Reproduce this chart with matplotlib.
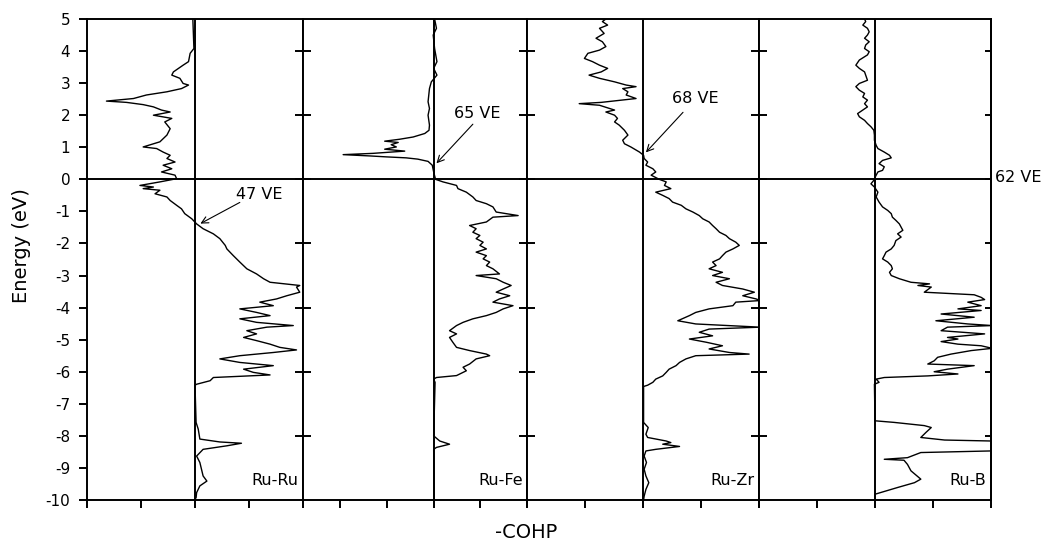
import matplotlib.pyplot as plt

plt.rcParams['font.family'] = ['DejaVu Sans']
plt.rcParams['axes.unicode_minus'] = False

# -COHP curves (arbitrary units) against energy in eV, Fermi level at 0
ru_ru_energy = [5.00, 4.08, 3.93, 3.67, 3.56, 3.35, 3.25, 3.15, 2.99, 2.94, 2.83, 2.73, 2.63, 2.52,
                2.44, 2.40, 2.33, 2.26, 2.16, 2.10, 2.00, 1.90, 1.79, 1.58, 1.38, 1.17, 1.01, 0.96,
                0.85, 0.75, 0.65, 0.54, 0.44, 0.33, 0.23, 0.13, 0.02, -0.08, -0.19, -0.24, -0.29,
                -0.34, -0.45, -0.55, -0.66, -0.81, -0.92, -1.07, -1.23, -1.39, -1.54, -1.70, -1.85,
                -2.06, -2.17, -2.38, -2.58, -2.79, -2.95, -3.10, -3.21, -3.31, -3.36, -3.52, -3.63,
                -3.73, -3.83, -3.94, -4.04, -4.15, -4.25, -4.35, -4.46, -4.56, -4.61, -4.72, -4.82,
                -4.93, -5.03, -5.14, -5.24, -5.32, -5.40, -5.50, -5.60, -5.71, -5.81, -5.92, -6.02,
                -6.10, -6.18, -6.28, -6.39, -6.42, -7.58, -7.79, -8.10, -8.19, -8.23, -8.31, -8.42,
                -8.63, -8.83, -9.04, -9.25, -9.41, -9.56, -9.77, -9.93]
ru_ru_cohp = [-0.04, -0.02, -0.09, -0.12, -0.22, -0.40, -0.43, -0.28, -0.22, -0.12, -0.25, -0.52,
              -0.90, -1.14, -1.64, -1.27, -0.96, -0.77, -0.62, -0.46, -0.77, -0.43, -0.56, -0.46,
              -0.52, -0.65, -0.96, -0.71, -0.59, -0.46, -0.52, -0.37, -0.59, -0.43, -0.62, -0.37,
              -0.34, -0.65, -1.02, -0.77, -0.96, -0.65, -0.74, -0.52, -0.46, -0.34, -0.25, -0.19,
              -0.06, 0.03, 0.15, 0.34, 0.46, 0.56, 0.59, 0.71, 0.83, 0.96, 1.14, 1.27, 1.39, 1.94,
              1.88, 1.94, 1.70, 1.51, 1.20, 1.45, 0.83, 1.14, 1.39, 0.83, 1.14, 1.82, 1.33, 0.96,
              1.14, 0.90, 1.14, 1.39, 1.57, 1.88, 1.45, 0.83, 0.46, 0.83, 1.45, 0.90, 1.08, 1.39,
              0.34, 0.28, 0.03, 0.00, 0.02, 0.06, 0.09, 0.46, 0.86, 0.59, 0.15, 0.03, 0.09, 0.12,
              0.15, 0.22, 0.09, 0.03, 0.02]

ru_fe_energy = [5.00, 4.71, 4.50, 4.08, 3.67, 3.46, 3.25, 3.04, 2.83, 2.42, 2.21, 2.00, 1.69, 1.53,
                1.43, 1.32, 1.25, 1.19, 1.15, 1.08, 1.01, 0.94, 0.88, 0.81, 0.77, 0.73, 0.70, 0.67,
                0.63, 0.56, 0.44, 0.23, 0.00, -0.08, -0.19, -0.29, -0.40, -0.55, -0.66, -0.76, -0.86,
                -1.02, -1.13, -1.18, -1.33, -1.44, -1.54, -1.65, -1.75, -1.85, -1.96, -2.06, -2.17,
                -2.27, -2.38, -2.48, -2.58, -2.69, -2.79, -2.95, -3.00, -3.10, -3.21, -3.31, -3.42,
                -3.52, -3.63, -3.73, -3.83, -3.94, -4.04, -4.15, -4.25, -4.35, -4.46, -4.56, -4.72,
                -4.82, -4.93, -5.08, -5.24, -5.34, -5.45, -5.50, -5.60, -5.76, -5.86, -5.97, -6.07,
                -6.12, -6.18, -6.23, -6.33, -8.00, -8.16, -8.26, -8.36, -8.42, -9.98]
ru_fe_cohp = [0.02, 0.06, -0.01, 0.02, 0.07, 0.00, 0.07, -0.05, -0.09, -0.12, -0.09, -0.12, -0.09,
              -0.10, -0.19, -0.44, -0.73, -1.05, -0.76, -0.91, -0.80, -1.05, -0.62, -1.30, -1.94,
              -1.37, -1.01, -0.59, -0.34, -0.12, -0.03, 0.00, 0.04, 0.20, 0.49, 0.52, 0.70, 0.84,
              0.91, 1.13, 1.27, 1.34, 1.81, 1.27, 1.13, 0.77, 0.91, 0.84, 0.99, 0.91, 1.06, 0.99,
              1.13, 0.91, 1.13, 1.06, 1.20, 1.13, 1.27, 1.41, 0.91, 1.34, 1.49, 1.66, 1.49, 1.34,
              1.63, 1.41, 1.27, 1.70, 1.49, 1.34, 1.13, 0.84, 0.63, 0.49, 0.34, 0.49, 0.34, 0.41,
              0.49, 0.77, 1.13, 1.20, 0.91, 0.77, 0.63, 0.70, 0.56, 0.49, 0.06, 0.00, 0.03, 0.00,
              0.13, 0.34, 0.06, 0.00, 0.01]

ru_zr_energy = [5.00, 4.92, 4.81, 4.71, 4.55, 4.40, 4.29, 4.14, 4.03, 3.93, 3.77, 3.67, 3.56, 3.46,
                3.35, 3.25, 3.15, 3.04, 2.94, 2.89, 2.83, 2.73, 2.63, 2.52, 2.40, 2.36, 2.31, 2.21,
                2.16, 2.10, 2.00, 1.90, 1.79, 1.69, 1.53, 1.38, 1.22, 1.11, 1.01, 0.85, 0.75, 0.65,
                0.54, 0.44, 0.33, 0.23, 0.13, 0.00, -0.08, -0.19, -0.29, -0.40, -0.50, -0.60, -0.71,
                -0.81, -0.92, -1.02, -1.13, -1.23, -1.33, -1.44, -1.54, -1.65, -1.75, -1.85, -1.96,
                -2.06, -2.17, -2.27, -2.38, -2.48, -2.58, -2.69, -2.79, -2.90, -3.00, -3.10, -3.21,
                -3.31, -3.42, -3.52, -3.63, -3.73, -3.78, -3.83, -3.94, -4.04, -4.15, -4.25, -4.41,
                -4.51, -4.61, -4.67, -4.77, -4.88, -4.98, -5.08, -5.19, -5.29, -5.40, -5.45, -5.50,
                -5.60, -5.71, -5.81, -5.92, -6.02, -6.13, -6.23, -6.33, -6.42, -6.46, -7.58, -7.64,
                -7.74, -7.95, -8.05, -8.16, -8.21, -8.26, -8.33, -8.42, -8.47, -8.63, -8.83, -9.04,
                -9.25, -9.46, -9.67, -9.88, -10.00]
ru_zr_cohp = [-0.64, -0.70, -0.61, -0.75, -0.67, -0.81, -0.70, -0.64, -0.75, -0.95, -1.01, -0.87,
              -0.75, -0.61, -0.72, -0.93, -0.75, -0.49, -0.29, -0.12, -0.35, -0.26, -0.29, -0.12,
              -0.72, -1.10, -0.75, -0.58, -0.49, -0.64, -0.49, -0.44, -0.49, -0.41, -0.32, -0.26,
              -0.35, -0.32, -0.21, -0.06, 0.01, 0.02, 0.08, 0.05, 0.17, 0.22, 0.14, 0.28, 0.40,
              0.37, 0.48, 0.22, 0.34, 0.45, 0.51, 0.66, 0.74, 0.86, 0.97, 1.03, 1.14, 1.20, 1.26,
              1.32, 1.43, 1.49, 1.60, 1.66, 1.55, 1.43, 1.37, 1.32, 1.20, 1.26, 1.14, 1.37, 1.20,
              1.49, 1.26, 1.37, 1.72, 1.92, 1.72, 1.95, 2.02, 1.60, 1.55, 1.14, 0.91, 0.80, 0.60,
              0.91, 2.02, 1.14, 0.97, 1.20, 0.80, 1.09, 1.37, 1.14, 1.49, 1.83, 0.91, 0.74, 0.63,
              0.57, 0.45, 0.40, 0.34, 0.22, 0.17, 0.08, 0.01, 0.01, 0.04, 0.09, 0.05, 0.08, 0.40,
              0.48, 0.34, 0.63, 0.22, 0.05, 0.02, 0.06, 0.02, 0.05, 0.10, 0.05, 0.02, 0.01]

ru_b_energy = [5.00, 4.92, 4.81, 4.71, 4.60, 4.50, 4.40, 4.29, 4.19, 4.08, 3.98, 3.88, 3.72, 3.56,
               3.46, 3.35, 3.25, 3.09, 2.99, 2.89, 2.78, 2.68, 2.57, 2.47, 2.36, 2.26, 2.16, 2.05,
               1.95, 1.84, 1.74, 1.64, 1.53, 1.38, 1.22, 1.06, 0.96, 0.85, 0.75, 0.67, 0.59, 0.49,
               0.39, 0.28, 0.23, 0.13, 0.02, -0.03, -0.14, -0.24, -0.40, -0.55, -0.71, -0.86, -0.97,
               -1.07, -1.18, -1.28, -1.39, -1.49, -1.59, -1.70, -1.80, -1.91, -2.06, -2.17, -2.27,
               -2.38, -2.48, -2.58, -2.69, -2.79, -2.90, -3.00, -3.10, -3.21, -3.26, -3.31, -3.36,
               -3.52, -3.60, -3.68, -3.75, -3.83, -3.94, -4.04, -4.09, -4.20, -4.30, -4.41, -4.51,
               -4.56, -4.61, -4.72, -4.82, -4.93, -4.98, -5.06, -5.14, -5.19, -5.27, -5.34, -5.45,
               -5.55, -5.66, -5.76, -5.81, -5.92, -6.00, -6.07, -6.13, -6.18, -6.23, -6.33, -6.39,
               -7.38, -7.53, -7.58, -7.68, -7.74, -7.89, -8.05, -8.13, -8.16, -8.47, -8.52, -8.68,
               -8.73, -8.76, -8.89, -9.09, -9.35, -9.46, -9.61, -9.82, -10.00]
ru_b_cohp = [-0.18, -0.16, -0.21, -0.13, -0.10, -0.13, -0.18, -0.10, -0.16, -0.18, -0.10, -0.13,
             -0.27, -0.33, -0.27, -0.18, -0.16, -0.13, -0.27, -0.33, -0.27, -0.18, -0.21, -0.13,
             -0.18, -0.13, -0.21, -0.30, -0.27, -0.18, -0.13, -0.07, -0.02, -0.01, -0.01, 0.02,
             0.05, 0.16, 0.25, 0.28, 0.13, 0.07, 0.16, 0.13, 0.05, 0.02, -0.01, -0.02, -0.07,
             -0.01, 0.05, 0.02, 0.07, 0.13, 0.22, 0.28, 0.30, 0.36, 0.42, 0.45, 0.48, 0.39, 0.45,
             0.36, 0.33, 0.28, 0.19, 0.16, 0.13, 0.22, 0.28, 0.30, 0.25, 0.28, 0.42, 0.62, 0.94,
             0.74, 0.97, 0.85, 1.71, 1.83, 1.89, 1.60, 1.83, 1.43, 1.83, 1.14, 1.71, 1.05, 1.60,
             2.02, 1.25, 1.14, 1.89, 1.25, 1.43, 1.14, 1.43, 1.83, 2.02, 1.66, 1.31, 1.08, 1.02,
             0.91, 1.71, 1.25, 1.02, 1.43, 0.91, 0.16, 0.02, 0.07, -0.01, 0.00, 0.00, 0.33, 0.85,
             0.97, 0.88, 0.79, 1.20, 2.00, 2.00, 0.79, 0.56, 0.16, 0.50, 0.56, 0.62, 0.79, 0.68,
             0.39, 0.00, 0.00]

panel_names = ['Ru-Ru', 'Ru-Fe', 'Ru-Zr', 'Ru-B']
panel_energy = [ru_ru_energy, ru_fe_energy, ru_zr_energy, ru_b_energy]
panel_cohp = [ru_ru_cohp, ru_fe_cohp, ru_zr_cohp, ru_b_cohp]
panel_xlims = [(-2, 2), (-2.8, 2), (-2, 2), (-2, 2)]

# valence electron counts: label position, arrow start, arrow tip (Fermi crossing)
ve_labels = ['47 VE', '65 VE', '68 VE', '62 VE']
ve_text_pos = [(1.19, -0.47), (0.93, 2.06), (0.90, 2.53), (2.07, 0.05)]
ve_arrow_from = [(0.83, -0.72), (0.84, 1.72), (0.69, 2.09), None]
ve_arrow_to = [(0.10, -1.38), (0.06, 0.50), (0.05, 0.84), None]

W, H = 1051, 546
edges = [87, 303, 527, 759, 991]
top, bottom = 19, 500

fig = plt.figure(figsize=(W / 100, H / 100), dpi=100)
lw_frame = 1.4

for i in range(4):
    left, right = edges[i], edges[i + 1]
    ax = fig.add_axes([left / W, 1 - bottom / H, (right - left) / W, (bottom - top) / H])
    ax.plot(panel_cohp[i], panel_energy[i], color='black', lw=1.0)
    ax.axvline(0, color='black', lw=lw_frame)
    ax.axhline(0, color='black', lw=lw_frame)
    ax.set_xlim(*panel_xlims[i])
    ax.set_ylim(-10, 5)
    for sp in ax.spines.values():
        sp.set_linewidth(lw_frame)

    ax.set_xticks(range(-2, 3))
    ax.tick_params(axis='x', direction='out', length=6, width=lw_frame, labelbottom=False)
    if i == 0:
        ax.set_yticks(range(-10, 6))
        ax.tick_params(axis='y', direction='out', length=6, width=lw_frame,
                       labelsize=11, pad=6)
    else:
        ax.set_yticks(range(-8, 5, 2))
        ax.tick_params(axis='y', direction='inout', length=11, width=lw_frame,
                       labelleft=False)
    if i == 3:
        sec = ax.secondary_yaxis('right')
        sec.set_yticks(range(-8, 5, 2))
        sec.tick_params(direction='in', length=4, width=lw_frame, labelright=False)
        sec.spines['right'].set_linewidth(lw_frame)

    ax.text(0.98, 0.04, panel_names[i], transform=ax.transAxes, ha='right', va='center',
            fontsize=11.5)

    tx, ty = ve_text_pos[i]
    ax.text(tx, ty, ve_labels[i], ha='left' if i == 3 else 'center', va='center',
            fontsize=11.5, clip_on=False)
    if ve_arrow_to[i] is not None:
        ax.annotate('', xy=ve_arrow_to[i], xytext=ve_arrow_from[i],
                    arrowprops=dict(arrowstyle='->', color='black', lw=0.8,
                                    shrinkA=0, shrinkB=0, mutation_scale=12))

fig.text(22 / W, 1 - 246 / H, 'Energy (eV)', rotation=90, ha='center', va='center',
         fontsize=14)
fig.text(526 / W, 1 - 532 / H, '-COHP', ha='center', va='center', fontsize=14)

fig.savefig('out.png', dpi=100)
